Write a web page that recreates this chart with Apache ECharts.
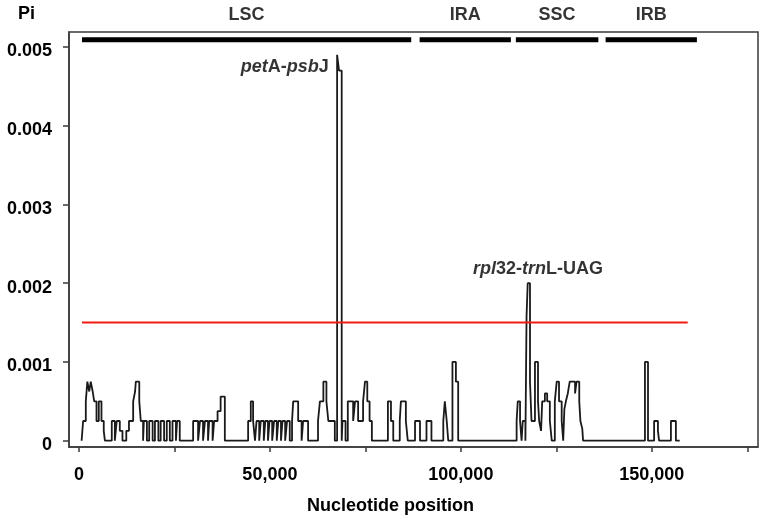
<!DOCTYPE html>
<html>
<head>
<meta charset="utf-8">
<script src="https://cdn.jsdelivr.net/npm/echarts@6/dist/echarts.min.js"></script>
<style>
html,body{margin:0;padding:0;background:#fff;}
#chart{width:762px;height:520px;}
</style>
</head>
<body>
<div id="chart"></div>
<script>
// Sliding-window nucleotide diversity (step profile): window start positions and Pi values
const positions = [
  700, 1100, 1800, 2200, 2700, 3100, 3600, 4000, 4600, 5200, 5900, 6500, 6800,
  8600, 9400, 9900, 10700, 11400, 12400, 13100, 14200, 14700, 14900, 15800, 16200, 16800,
  17000, 17800, 18400, 19300, 19900, 20800, 21400, 22300, 23000, 23800, 24500, 25400, 25700, 26400,
  29900, 31200, 31700, 32500, 33000, 33800, 34100, 35000, 35400, 36300, 37100, 38200,
  44300, 45000, 45600, 46100, 46500, 47200, 47600, 48400, 48800, 49500, 49900, 50600,
  51100, 51800, 52200, 52900, 53300, 54000, 54500, 55200, 55800, 56100, 57400, 58300, 58700, 60000,
  62600, 63100, 64000, 64800, 65300, 67000, 67600, 68100, 68800, 69000, 69800,
  70400, 71800, 72300, 73100, 74400, 74900, 75500, 76100, 76700,
  80900, 81700, 82300, 84000, 84300, 85600, 86100, 88000, 89300, 91000, 92300,
  95400, 95800, 96300, 96700, 97800, 98700, 99300,
  114600, 114900, 115500, 115900, 116200, 116900, 117200, 117500, 118100, 118500,
  119400, 120200, 120500, 121000, 121300, 122000, 122600, 123300, 123800,
  124600, 125100, 125700, 126400, 126800, 127100, 127500, 128000, 128500,
  129900, 130300, 131000, 131300, 131800, 132000,
  148200, 149000, 150600, 151600, 151900, 155000, 156300, 157300
];
const piValues = [
  0, 0.00025, 0.0005, 0.00075, 0.000625, 0.00075, 0.000625, 0.0005, 0.00025, 0.0005, 0.00025, 0.000125, 0,
  0.00025, 0, 0.00025, 0.000125, 0, 0.000125, 0.00025, 0.0005, 0.000625, 0.00075, 0.0005, 0.00025, 0,
  0.00025, 0, 0.00025, 0, 0.00025, 0, 0.00025, 0, 0.00025, 0, 0.00025, 0, 0.00025, 0,
  0.00025, 0, 0.00025, 0, 0.00025, 0, 0.00025, 0, 0.00025, 0.000375, 0.00056, 0,
  0.00025, 0.0005, 0.00025, 0, 0.00025, 0, 0.00025, 0, 0.00025, 0, 0.00025, 0,
  0.00025, 0, 0.00025, 0, 0.00025, 0, 0.00025, 0, 0.00025, 0.0005, 0.00025, 0, 0.00025, 0,
  0.00025, 0.0005, 0.00075, 0.0005, 0.00025, 0, 0.0049, 0.0047, 0, 0.00025, 0,
  0.0005, 0.00025, 0.0005, 0.00025, 0.0005, 0.00075, 0.0005, 0.00025, 0,
  0.0005, 0.00025, 0, 0.00025, 0.0005, 0.00025, 0, 0.00025, 0, 0.00025, 0,
  0.00025, 0.0005, 0.00025, 0, 0.001, 0.00075, 0,
  0.00025, 0.0005, 0.00025, 0, 0.00025, 0, 0.00158, 0.002, 0.00075, 0.00025,
  0.001, 0.0005, 0.00025, 0.000125, 0.0005, 0.0006, 0.0005, 0.00025, 0,
  0.0005, 0.00075, 0.0005, 0.00025, 0, 0.0004, 0.0005, 0.0006, 0.00075,
  0.0006, 0.00075, 0.0005, 0.00025, 0.00015, 0,
  0.001, 0, 0.00025, 0.000125, 0, 0.00025, 0, 0
];

// Genome regions (top bars)
const regionNames = ['LSC', 'IRA', 'SSC', 'IRB'];
const regionStart = [800, 89200, 114400, 137900];
const regionEnd = [87000, 113100, 136000, 161800];
const regionBarLevel = 0.00509;

// Threshold line
const thresholdValue = 0.0015;
const thresholdRange = [800, 159400];

// Annotations
const peakLabels = ['{i|pet}{n|A-}{i|psb}{n|J}', '{i|rpl}{n|32-}{i|trn}{n|L-UAG}'];
const peakLabelPos = [[65400, 0.00475], [103150, 0.00218]];
const peakLabelSide = ['left', 'right'];

// Axis ticks
const xTicks = [0, 25000, 50000, 75000, 100000, 125000, 150000, 175000];
const xTickLabels = [0, 50000, 100000, 150000];
const yTicks = [0, 0.001, 0.002, 0.003, 0.004, 0.005];

const FONT = '"Liberation Sans", Arial, sans-serif';
const FS = 18;
const chart = echarts.init(document.getElementById('chart'), null, {renderer: 'canvas'});

const series = [];
series.push({
  type: 'line', name: 'Pi', step: 'end', showSymbol: false, symbol: 'none',
  data: positions.map((p, i) => [p, piValues[i]]),
  lineStyle: {color: '#1a1a1a', width: 1.8},
  z: 3
});
series.push({
  type: 'line', name: 'threshold', showSymbol: false, symbol: 'none',
  data: [[thresholdRange[0], thresholdValue], [thresholdRange[1], thresholdValue]],
  lineStyle: {color: '#f01a14', width: 2},
  z: 4
});
regionNames.forEach((n, i) => {
  series.push({
    type: 'line', name: n, showSymbol: false, symbol: 'none',
    data: [[regionStart[i], regionBarLevel], [regionEnd[i], regionBarLevel]],
    lineStyle: {color: '#000', width: 5, cap: 'butt'},
    z: 4
  });
});
series.push({
  type: 'scatter', name: 'regionLabels', symbolSize: 0, silent: true,
  data: regionNames.map((n, i) => ({name: n, value: [(regionStart[i] + regionEnd[i]) / 2, regionBarLevel]})),
  label: {show: true, position: 'inside', offset: [0, -25], formatter: p => p.name,
    color: '#000', textBorderWidth: 0, fontFamily: FONT, fontWeight: 'bold', fontSize: FS},
  z: 5
});
peakLabels.forEach((t, i) => {
  series.push({
    type: 'scatter', name: 'peak' + i, symbolSize: 0, silent: true,
    data: [{value: peakLabelPos[i]}],
    label: {show: true, position: peakLabelSide[i], distance: 0, formatter: t,
      color: '#000', textBorderWidth: 0,
      rich: {
        i: {fontStyle: 'italic', fontWeight: 'bold', fontSize: FS, fontFamily: FONT, color: '#000'},
        n: {fontWeight: 'bold', fontSize: FS, fontFamily: FONT, color: '#000'}
      }},
    z: 5
  });
});

chart.setOption({
  animation: false,
  backgroundColor: '#fff',
  grid: {left: 69, right: 4, top: 32, bottom: 72, show: true, borderColor: '#3a3a3a', borderWidth: 1.5, backgroundColor: 'transparent'},
  xAxis: {
    type: 'value', min: -2600, max: 177800,
    name: 'Nucleotide position', nameLocation: 'middle', nameGap: 50,
    nameTextStyle: {color: '#000', fontFamily: FONT, fontWeight: 'bold', fontSize: FS, padding: [0, 46, 0, 0]},
    axisLine: {show: true, onZero: false, lineStyle: {color: '#3a3a3a', width: 1.5}},
    axisTick: {show: true, length: 5, customValues: xTicks, lineStyle: {color: '#3a3a3a', width: 1.5}},
    axisLabel: {show: true, customValues: xTickLabels, margin: 19, color: '#000', fontFamily: FONT, fontWeight: 'bold', fontSize: FS,
      formatter: v => Number(v).toLocaleString('en-US')},
    splitLine: {show: false}
  },
  yAxis: {
    type: 'value', min: -0.00008, max: 0.00519,
    name: 'Pi', nameLocation: 'end', nameGap: 9,
    nameTextStyle: {color: '#000', fontFamily: FONT, fontWeight: 'bold', fontSize: FS, align: 'right', padding: [0, 34, 0, 0]},
    axisLine: {show: true, onZero: false, lineStyle: {color: '#3a3a3a', width: 1.5}},
    axisTick: {show: true, length: 6, customValues: yTicks, lineStyle: {color: '#3a3a3a', width: 1.5}},
    axisLabel: {show: true, customValues: yTicks, margin: 17, color: '#000',
      formatter: v => '{a|' + (Math.abs(v) < 1e-12 ? '0' : Number(v).toFixed(3)) + '}',
      rich: {a: {fontFamily: FONT, fontWeight: 'bold', fontSize: FS, color: '#000', padding: [9, 0, 0, 0]}}},
    splitLine: {show: false}
  },
  series: series
});
</script>
</body>
</html>
